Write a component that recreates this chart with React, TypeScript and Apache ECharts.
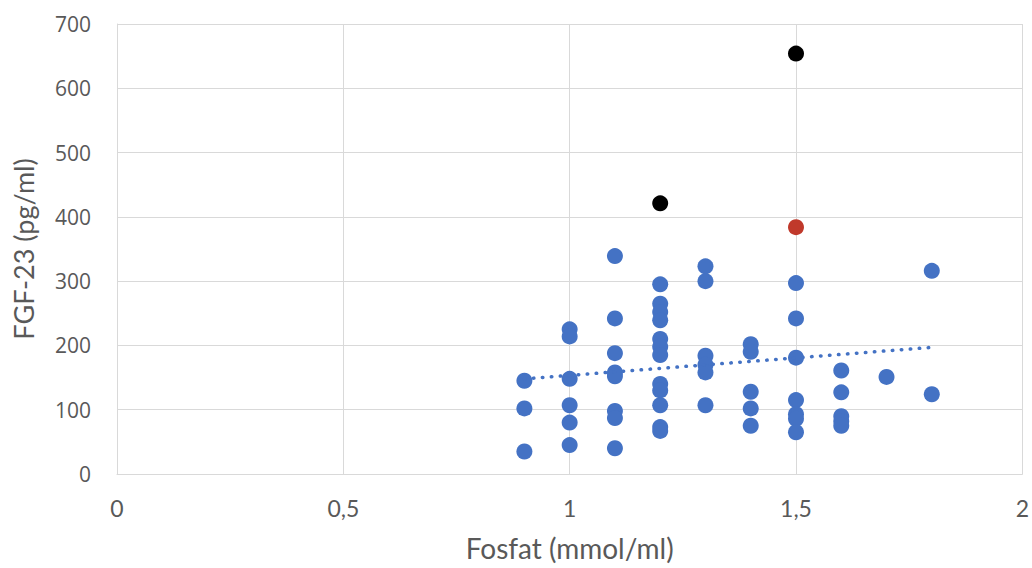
import React, { useEffect, useRef } from "react";
import * as echarts from "echarts";

const xTicks = [0, 0.5, 1, 1.5, 2];
const yTicks = [0, 100, 200, 300, 400, 500, 600, 700];

const blueX = [
  0.9, 0.9, 0.9,
  1.0, 1.0, 1.0, 1.0, 1.0, 1.0,
  1.1, 1.1, 1.1, 1.1, 1.1, 1.1, 1.1, 1.1,
  1.2, 1.2, 1.2, 1.2, 1.2, 1.2, 1.2, 1.2, 1.2, 1.2, 1.2, 1.2,
  1.3, 1.3, 1.3, 1.3, 1.3, 1.3,
  1.4, 1.4, 1.4, 1.4, 1.4,
  1.5, 1.5, 1.5, 1.5, 1.5, 1.5, 1.5,
  1.6, 1.6, 1.6, 1.6, 1.6,
  1.7,
  1.8, 1.8,
];
const blueY = [
  145, 102, 35,
  225, 214, 148, 107, 80, 45,
  339, 242, 188, 158, 152, 98, 87, 40,
  295, 265, 252, 239, 210, 198, 185, 140, 130, 107, 73, 67,
  323, 300, 184, 170, 158, 107,
  202, 190, 128, 102, 75,
  297, 242, 181, 115, 93, 86, 65,
  161, 127, 90, 82, 75,
  151,
  316, 124,
];

const redX = [1.5];
const redY = [384];

const blackX = [1.2, 1.5];
const blackY = [421, 654];

const trendX = [0.9, 1.8];
const trendY = [148, 197];

const zip = (xs: number[], ys: number[]) => xs.map((x, i) => [x, ys[i]]);

export default function App() {
  const ref = useRef<HTMLDivElement>(null);
  useEffect(() => {
    if (!ref.current) return;
    const chart = echarts.init(ref.current, undefined, { renderer: "svg" });
    const gridColor = "#d9d9d9";
    const textColor = "#595959";
    chart.setOption({
      animation: false,
      backgroundColor: "#ffffff",
      grid: { left: 117, right: 9, top: 24, bottom: 94 },
      xAxis: {
        type: "value",
        min: xTicks[0],
        max: xTicks[xTicks.length - 1],
        interval: 0.5,
        name: "Fosfat (mmol/ml)",
        nameLocation: "middle",
        nameGap: 60,
        nameTextStyle: { fontFamily: "Lato", fontSize: 28, color: textColor },
        axisLine: { show: true, lineStyle: { color: gridColor, width: 1 } },
        axisTick: { show: false },
        splitLine: { show: true, lineStyle: { color: gridColor, width: 1 } },
        axisLabel: {
          margin: 22,
          fontFamily: "Lato",
          fontSize: 23,
          color: textColor,
          formatter: (v: number) => String(v).replace(".", ","),
        },
      },
      yAxis: {
        type: "value",
        min: yTicks[0],
        max: yTicks[yTicks.length - 1],
        interval: 100,
        name: "FGF-23 (pg/ml)",
        nameLocation: "middle",
        nameGap: 80,
        nameTextStyle: { fontFamily: "Lato", fontSize: 27, color: textColor },
        axisLine: { show: true, lineStyle: { color: gridColor, width: 1 } },
        axisTick: { show: false },
        splitLine: { show: true, lineStyle: { color: gridColor, width: 1 } },
        axisLabel: {
          margin: 26,
          fontFamily: "Open Sans",
          fontSize: 21,
          color: textColor,
        },
      },
      series: [
        {
          type: "scatter",
          data: zip(blueX, blueY),
          symbolSize: 16,
          itemStyle: { color: "#4472c4", opacity: 1 },
          z: 2,
        },
        {
          type: "scatter",
          data: zip(redX, redY),
          symbolSize: 16,
          itemStyle: { color: "#c0392b", opacity: 1 },
          z: 2,
        },
        {
          type: "scatter",
          data: zip(blackX, blackY),
          symbolSize: 16,
          itemStyle: { color: "#000000", opacity: 1 },
          z: 2,
        },
        {
          type: "line",
          data: zip(trendX, trendY),
          symbol: "none",
          lineStyle: { color: "#4472c4", width: 3.5, type: [0.5, 8.5], cap: "round" },
          z: 3,
        },
      ],
    });
    return () => chart.dispose();
  }, []);
  return (
    <div
      ref={ref}
      style={{ position: "fixed", left: 0, top: 0, width: 1032, height: 568, background: "#fff" }}
    />
  );
}
